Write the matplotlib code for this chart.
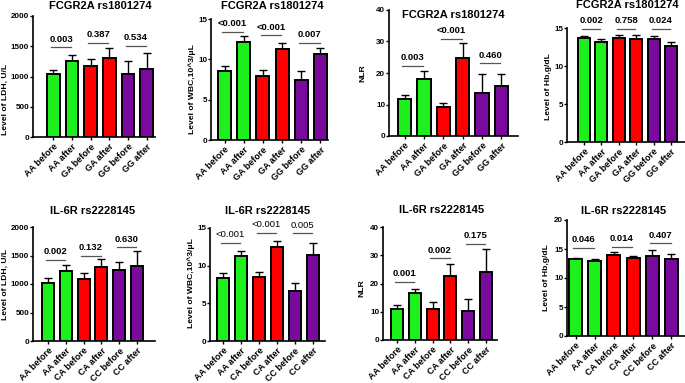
import matplotlib
matplotlib.use("Agg")
import matplotlib.pyplot as plt
import matplotlib.transforms as mtransforms
import numpy as np

plt.rcParams['font.family'] = ['Liberation Sans', 'DejaVu Sans']
plt.rcParams['font.weight'] = 'bold'

# ---------------- data ----------------
top_labels = ["AA before", "AA after", "GA before", "GA after", "GG before", "GG after"]
bot_labels = ["AA before", "AA after", "CA before", "CA after", "CC before", "CC after"]
top_title = "FCGR2A rs1801274"
bot_title = "IL-6R rs2228145"

ldh_fc_mean = [1040, 1250, 1170, 1300, 1040, 1130]
ldh_fc_top = [1110, 1350, 1295, 1475, 1260, 1390]
ldh_fc_p = ["0.003", "0.387", "0.534"]
ldh_fc_br = [1480, 1560, 1505]

wbc_fc_mean = [8.6, 12.2, 7.95, 11.25, 7.45, 10.6]
wbc_fc_top = [9.17, 12.93, 8.68, 12.07, 8.55, 11.45]
wbc_fc_p = ["<0.001", "<0.001", "0.007"]
wbc_fc_br = [13.43, 13.0, 12.07]

nlr_fc_mean = [11.6, 18.1, 9.3, 24.8, 13.5, 15.9]
nlr_fc_top = [12.9, 20.6, 10.6, 29.4, 19.7, 19.7]
nlr_fc_p = ["0.003", "<0.001", "0.460"]
nlr_fc_br = [22.3, 30.8, 23.1]

hb_fc_mean = [13.7, 13.2, 13.7, 13.5, 13.5, 12.6]
hb_fc_top = [14.0, 13.5, 14.1, 14.1, 14.0, 13.2]
hb_fc_p = ["0.002", "0.758", "0.024"]
hb_fc_br = [14.87, 14.87, 14.87]

ldh_il_mean = [1020, 1230, 1090, 1290, 1240, 1310]
ldh_il_top = [1110, 1340, 1200, 1440, 1380, 1580]
ldh_il_p = ["0.002", "0.132", "0.630"]
ldh_il_br = [1420, 1500, 1645]

wbc_il_mean = [8.4, 11.3, 8.45, 12.5, 6.7, 11.4]
wbc_il_top = [9.0, 12.0, 9.1, 13.3, 7.7, 13.0]
wbc_il_p = ["<0.001", "<0.001", "0.005"]
wbc_il_br = [13.0, 14.4, 14.3]

nlr_il_mean = [11.1, 16.6, 11.1, 22.7, 10.4, 24.1]
nlr_il_top = [12.5, 18.2, 13.3, 26.9, 14.6, 32.2]
nlr_il_p = ["0.001", "0.002", "0.175"]
nlr_il_br = [20.5, 28.9, 34.1]

hb_il_mean = [13.2, 12.9, 13.95, 13.45, 13.8, 13.3]
hb_il_top = [13.5, 13.3, 14.4, 13.85, 14.9, 14.1]
hb_il_p = ["0.046", "0.014", "0.407"]
hb_il_br = [15.2, 15.4, 16.0]

colors = ["#1EF01E", "#1EF01E", "#FF0000", "#FF0000", "#7A0A9E", "#7A0A9E"]

W, H = 685, 383
fig = plt.figure(figsize=(W / 100, H / 100), dpi=100)

BW = 0.68

panels = [
    # (L, R, T, B, B0, B1), ymax, ystep, ylabel, (label x,y px), labels, title, title_y, mean, top, p, br, p_bold
    ((33, 155, 16, 137, 47, 153), 2000, 500, "Level of LDH, U/L", (5.5, 99), top_labels, top_title, 6,
     ldh_fc_mean, ldh_fc_top, ldh_fc_p, ldh_fc_br, True),
    ((211, 328, 19, 140, 218, 327), 15, 5, "Level of WBC,10^3/μL", (192, 89), top_labels, top_title, 6,
     wbc_fc_mean, wbc_fc_top, wbc_fc_p, wbc_fc_br, True),
    ((389, 518, 10, 136, 398, 508), 40, 10, "NLR", (363, 73), top_labels, top_title, 15,
     nlr_fc_mean, nlr_fc_top, nlr_fc_p, nlr_fc_br, True),
    ((567, 685, 28, 142, 578, 677), 15, 5, "Level of Hb,g/dL", (549, 87), top_labels, top_title, 5,
     hb_fc_mean, hb_fc_top, hb_fc_p, hb_fc_br, True),
    ((33, 155, 227, 341, 42, 143), 2000, 500, "Level of LDH, U/L", (5.5, 284), bot_labels, bot_title, 210.5,
     ldh_il_mean, ldh_il_top, ldh_il_p, ldh_il_br, True),
    ((210, 325, 228, 341, 217, 319), 15, 5, "Level of WBC,10^3/μL", (191, 283), bot_labels, bot_title, 210.5,
     wbc_il_mean, wbc_il_top, wbc_il_p, wbc_il_br, False),
    ((383, 497, 227, 340, 391, 492), 40, 10, "NLR", (362, 288), bot_labels, bot_title, 210,
     nlr_il_mean, nlr_il_top, nlr_il_p, nlr_il_br, True),
    ((567, 685, 220, 336, 569, 678), 20, 5, "Level of Hb,g/dL", (546, 278), bot_labels, bot_title, 210.5,
     hb_il_mean, hb_il_top, hb_il_p, hb_il_br, True),
]

for (box, ymax, ystep, ylabel, lxy, labels, title, ty, mean, top, pv, br, pbold) in panels:
    L, R, T, B, B0, B1 = box
    ax = fig.add_axes([L / W, 1 - B / H, (R - L) / W, (B - T) / H])
    x = np.arange(len(labels))
    mean = np.array(mean)
    err = np.array(top) - mean
    ax.bar(x, mean, width=BW, color=colors, edgecolor="black", linewidth=1.4, zorder=3)
    ax.errorbar(x, mean, yerr=[np.zeros_like(err), err], fmt="none", ecolor="black",
                elinewidth=1.0, capsize=2.6, capthick=1.0, zorder=2)
    unit = (B1 - B0) / (5 + BW)
    xl = -BW / 2 - (B0 - L) / unit
    xr = 5 + BW / 2 + (R - B1) / unit
    ax.set_xlim(xl, xr)
    ax.set_ylim(0, ymax)
    ticks = np.arange(0, ymax + ystep / 2, ystep)
    ax.set_yticks(ticks)
    ax.set_yticklabels([f"{int(v)}" for v in ticks], fontsize=5.8, fontweight="bold")
    ax.set_xticks(x)
    ax.set_xticklabels(labels, rotation=45, ha="right", rotation_mode="anchor",
                       fontsize=6.5, fontweight="bold")
    ax.tick_params(axis="both", direction="out", length=2.2, width=1.0)
    ax.tick_params(axis="y", pad=0.6)
    ax.tick_params(axis="x", pad=1.5)
    ax.set_ylabel(ylabel, fontsize=6.1, fontweight="bold", va="center", ha="center")
    ax.yaxis.set_label_coords(lxy[0] / W, 1 - lxy[1] / H, transform=fig.transFigure)
    for s in ["top", "right"]:
        ax.spines[s].set_visible(False)
    for s in ["left", "bottom"]:
        ax.spines[s].set_linewidth(1.2)
    ax.set_facecolor("none")
    # brackets and p-values
    for i, (p, yb) in enumerate(zip(pv, br)):
        x0, x1 = 2 * i - 0.12, 2 * i + 1 - 0.05
        ax.plot([x0, x1], [yb, yb], color="#555555", lw=0.9, clip_on=False, zorder=4)
        ax.annotate(p, xy=((x0 + x1) / 2, yb), xytext=(0, 2.6), textcoords="offset points",
                    ha="center", va="bottom", fontsize=6.8,
                    fontweight="bold" if pbold else "normal", annotation_clip=False)
    tr = mtransforms.blended_transform_factory(ax.transData, fig.transFigure)
    ax.text(2.5, 1 - ty / H, title, transform=tr, ha="center", va="center",
            fontsize=8, fontweight="bold")

fig.savefig("out.png", dpi=100)
